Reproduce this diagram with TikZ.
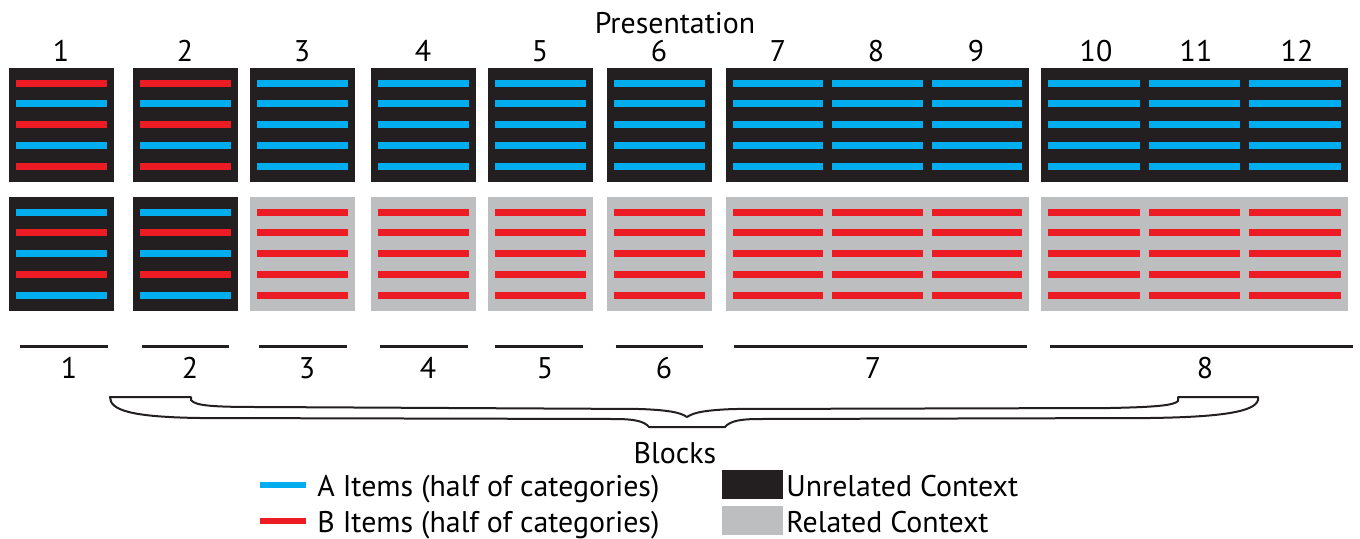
\documentclass[tikz,border=0pt]{standalone}
\usepackage{fontspec}
\setmainfont{PT Sans}
\usetikzlibrary{positioning}
\definecolor{unrelated}{HTML}{231F20}
\definecolor{related}{HTML}{BCBEC0}
\definecolor{itema}{HTML}{00AEEF}
\definecolor{itemb}{HTML}{ED1C24}
\tikzset{
lbl/.style={font=\fontsize{17}{17}\selectfont, anchor=base, inner sep=0pt}, % every text of the figure
blockline/.style={draw=unrelated, line width=0.06cm}, % the lines over the block numbers
}
% one box of the figure: left, right, columns, top, background, rows 1/3/5, rows 2/4
\newcommand{\itempanel}[7]{%
  \fill[#5] (#1,#4) rectangle (#2,#4+114);
  \pgfmathsetmacro{\colw}{(#2-#1-14-(#3-1)*9)/#3}
  \foreach \c in {1,...,#3}{
    \foreach \k in {0,...,4}{
      \pgfmathsetmacro{\bx}{#1+7+(\c-1)*(\colw+9)}
      \pgfmathsetmacro{\by}{#4+15+20.75*\k}
      \ifodd\k \def\bc{#7}\else\def\bc{#6}\fi
      \fill[\bc] (\bx,\by-3.5) rectangle (\bx+\colw,\by+3.5);
    }
  }
}

\begin{document}
\begin{tikzpicture}[x=0.02cm, y=-0.02cm]
    \useasboundingbox (0,0) rectangle (1360,538);

    % top row: unrelated context
    \itempanel{9}{114}{1}{68}{unrelated}{itemb}{itema}
    \itempanel{133}{238}{1}{68}{unrelated}{itemb}{itema}
    \foreach \l/\r/\n in {250/355/1, 371/476/1, 488/593/1, 607/712/1, 726/1029/3, 1041/1348/3}
        \itempanel{\l}{\r}{\n}{68}{unrelated}{itema}{itema};

    % bottom row
    \itempanel{9}{114}{1}{197}{unrelated}{itema}{itemb}
    \itempanel{133}{238}{1}{197}{unrelated}{itema}{itemb}
    \foreach \l/\r/\n in {250/355/1, 371/476/1, 488/593/1, 607/712/1, 726/1029/3, 1041/1348/3}
        \itempanel{\l}{\r}{\n}{197}{related}{itemb}{itemb};

    % presentation numbers
    \node[lbl] (pres) at (675,33) {Presentation};
    \foreach \x/\t in {61/1, 185/2, 302/3, 423/4, 540/5, 659/6, 778/7, 876/8, 976/9, 1096/10, 1196/11, 1297/12}
        \node[lbl] (p\t) at (\x,61) {\t};

    % blocks
    \foreach \l/\r/\x/\t in {20/108/69/1, 142/229/190/2, 259/347/307/3, 380/468/428/4,
                             495/583/545/5, 616/703/664/6, 734/1027/873/7, 1050/1353/1205/8}{
        \draw[blockline] (\l,346) -- (\r,346);
        \node[lbl] (b\t) at (\x,378) {\t};
    }

    % brace
    \draw[unrelated, line width=0.04cm, fill=white, line join=round]
        (110,397) -- (191,397) -- (191,400)
        .. controls (195,406) and (215,407) .. (260,407)
        -- (640,409) .. controls (666,410) and (680,412) .. (687,417)
        .. controls (694,412) and (708,410) .. (734,409)
        -- (1110,408) .. controls (1160,407) and (1174,405) .. (1178,401)
        -- (1178,397) -- (1258,397) -- (1258,400)
        .. controls (1255,412) and (1220,417) .. (1150,418)
        -- (760,419) .. controls (740,419) and (730,421) .. (725,427)
        -- (649,427) .. controls (644,421) and (634,419) .. (614,419)
        -- (200,418) .. controls (130,417) and (110,410) .. (110,397) -- cycle;
    \node[lbl] (blocks) at (675,463) {Blocks};

    % legend
    \fill[itema] (260,482) rectangle (306,488);
    \fill[itemb] (260,518) rectangle (306,524);
    \node[lbl, anchor=base west] (leg-a) at (317,496) {A Items (half of categories)};
    \node[lbl, anchor=base west] (leg-b) at (317,532) {B Items (half of categories)};
    \fill[unrelated] (722,470) rectangle (783,499);
    \fill[related] (722,506) rectangle (783,535);
    \node[lbl, anchor=base west] (leg-unrel) at (786,496) {Unrelated Context};
    \node[lbl, anchor=base west] (leg-rel) at (786,532) {Related Context};
\end{tikzpicture}
\end{document}
